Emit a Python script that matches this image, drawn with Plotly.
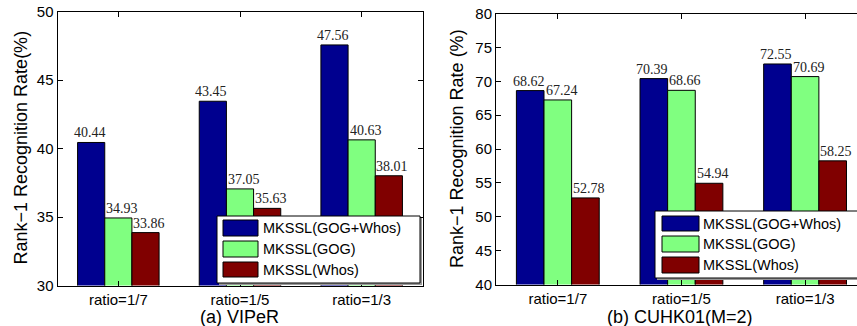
import plotly.graph_objects as go

W, H = 857, 326

categories = ["ratio=1/7", "ratio=1/5", "ratio=1/3"]
series_names = ["MKSSL(GOG+Whos)", "MKSSL(GOG)", "MKSSL(Whos)"]
colors = ["#00008F", "#80FF80", "#800000"]

viper_gog_whos = [40.44, 43.45, 47.56]
viper_gog = [34.93, 37.05, 40.63]
viper_whos = [33.86, 35.63, 38.01]

cuhk_gog_whos = [68.62, 70.39, 72.55]
cuhk_gog = [67.24, 68.66, 70.69]
cuhk_whos = [52.78, 54.94, 58.25]

viper_ticks = [30, 35, 40, 45, 50]
cuhk_ticks = [40, 45, 50, 55, 60, 65, 70, 75, 80]


def px(x):
    return x / W


def py(y):
    return 1 - y / H


fig = go.Figure()

labelfont = dict(family="Liberation Serif", size=14, color="#222")
# pixel offsets of value labels from the centre of each category group
left_bw, right_bw = 27.2, 27.6
left_shifts = [-left_bw - 1.5, 4, left_bw + 3.5]
right_shifts = [-right_bw - 1.5, 4, right_bw + 3.5]

annotations = []

for vals, name, col, sh in zip([viper_gog_whos, viper_gog, viper_whos], series_names, colors, left_shifts):
    fig.add_trace(go.Bar(
        x=categories, y=vals, name=name, xaxis="x", yaxis="y",
        marker=dict(color=col, line=dict(color="black", width=1)),
        showlegend=False,
    ))
    for c, v in zip(categories, vals):
        annotations.append(dict(xref="x", yref="y", x=c, y=v, text=f"{v:.2f}", showarrow=False,
                                xanchor="center", yanchor="bottom", xshift=sh, yshift=0,
                                font=labelfont))

for vals, name, col, sh in zip([cuhk_gog_whos, cuhk_gog, cuhk_whos], series_names, colors, right_shifts):
    fig.add_trace(go.Bar(
        x=categories, y=vals, name=name, xaxis="x2", yaxis="y2",
        marker=dict(color=col, line=dict(color="black", width=1)),
        showlegend=False,
    ))
    for c, v in zip(categories, vals):
        annotations.append(dict(xref="x2", yref="y2", x=c, y=v, text=f"{v:.2f}", showarrow=False,
                                xanchor="center", yanchor="bottom", xshift=sh, yshift=0,
                                font=labelfont))

tickfont = dict(family="Liberation Sans", size=15, color="black")
common_x = dict(type="category", showline=True, linecolor="black", linewidth=1,
                ticks="inside", ticklen=5, tickcolor="black", tickfont=tickfont,
                automargin=False,
                showgrid=False, zeroline=False, fixedrange=True)
common_y = dict(showline=True, linecolor="black", linewidth=1,
                ticks="inside", ticklen=5, tickcolor="black", tickfont=tickfont,
                automargin=False,
                showgrid=False, zeroline=False, fixedrange=True)

fig.update_layout(
    width=W, height=H,
    margin=dict(l=0, r=0, t=0, b=0, pad=0, autoexpand=False),
    paper_bgcolor="white", plot_bgcolor="white",
    barmode="group", bargap=0.33, bargroupgap=0,
    xaxis=dict(common_x, domain=[px(57.5), px(422.5)], range=[-0.5, 2.5],
               anchor="y", mirror="ticks"),
    yaxis=dict(common_y, domain=[py(285.5), py(11.5)], range=[30, 50],
               tickvals=viper_ticks, anchor="x", mirror="ticks"),
    xaxis2=dict(common_x, domain=[px(496), 1.0], range=[-0.5, 2.42],
                anchor="y2", mirror="ticks"),
    yaxis2=dict(common_y, domain=[py(284.5), py(13.5)], range=[40, 80],
                tickvals=cuhk_ticks, anchor="x2", mirror=False),
)

shapes = []


def add_legend(x0, y0, x1, y1, sw_x0, sw_x1, rows, text_x):
    shapes.append(dict(type="rect", xref="paper", yref="paper",
                       x0=px(x0 + 2), x1=px(x1 + 2), y0=py(y1 + 2), y1=py(y0 + 2),
                       fillcolor="#9a9a9a", line=dict(width=0), layer="above"))
    shapes.append(dict(type="rect", xref="paper", yref="paper",
                       x0=px(x0), x1=px(x1), y0=py(y1), y1=py(y0),
                       fillcolor="white", line=dict(color="black", width=1), layer="above"))
    for (ry0, ry1), name, col in zip(rows, series_names, colors):
        shapes.append(dict(type="rect", xref="paper", yref="paper",
                           x0=px(sw_x0), x1=px(sw_x1), y0=py(ry1), y1=py(ry0),
                           fillcolor=col, line=dict(color="black", width=1), layer="above"))
        annotations.append(dict(xref="paper", yref="paper", x=px(text_x), y=py((ry0 + ry1) / 2),
                                text=name, showarrow=False, xanchor="left", yanchor="middle",
                                font=dict(family="Liberation Sans", size=14.5, color="black")))


add_legend(217, 216, 420, 283, 223, 258, [(220, 236), (241, 257), (262, 277)], 261)
add_legend(655, 211, 880, 278, 662, 699, [(216, 231), (236, 252), (257, 273)], 701)

titlefont = dict(family="Liberation Sans", size=18, color="black")
annotations.append(dict(xref="paper", yref="paper", x=px(21), y=py(147.5), text="Rank−1 Recognition Rate(%)",
                        textangle=-90, showarrow=False, xanchor="center", yanchor="middle", font=titlefont))
annotations.append(dict(xref="paper", yref="paper", x=px(457), y=py(149), text="Rank−1 Recognition Rate (%)",
                        textangle=-90, showarrow=False, xanchor="center", yanchor="middle", font=titlefont))
annotations.append(dict(xref="paper", yref="paper", x=px(239), y=py(316.5), text="(a) VIPeR",
                        showarrow=False, xanchor="center", yanchor="middle", font=titlefont))
annotations.append(dict(xref="paper", yref="paper", x=px(680), y=py(316.5), text="(b) CUHK01(M=2)",
                        showarrow=False, xanchor="center", yanchor="middle", font=titlefont))

fig.update_layout(shapes=shapes, annotations=annotations)

fig.write_html("out.html")
